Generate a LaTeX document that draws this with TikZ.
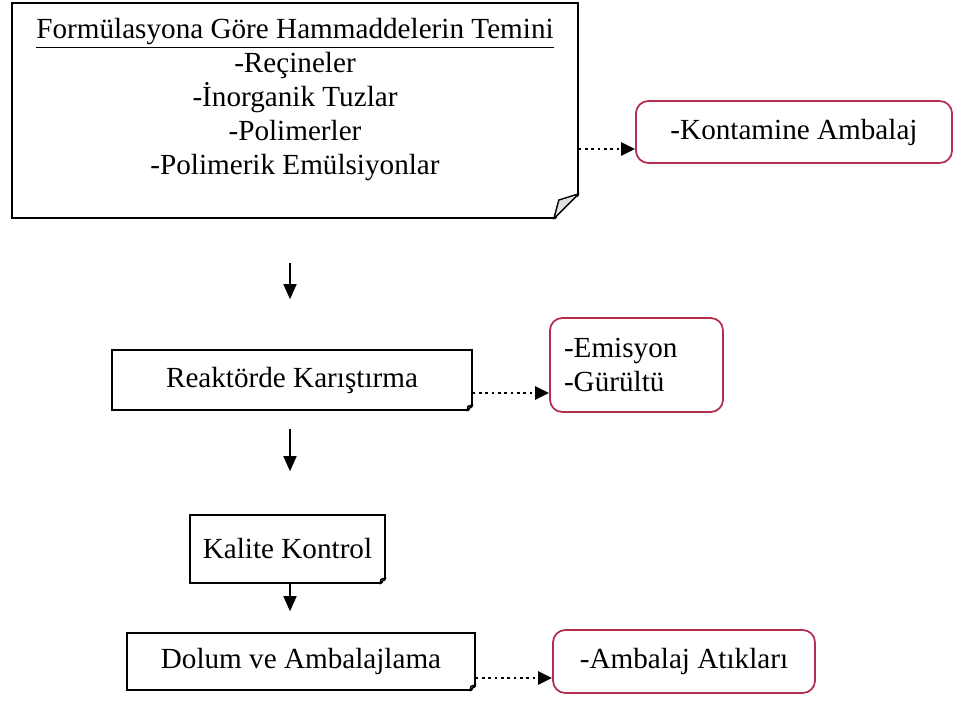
\documentclass[tikz,border=0pt]{standalone}
\usepackage{fontspec}
\setmainfont{Liberation Serif}
\usetikzlibrary{positioning,arrows.meta}
\definecolor{wastered}{RGB}{178,46,78}
\definecolor{flapgray}{RGB}{225,225,225}

% folded corner at the bottom right of a process box
\newcommand{\docfold}[2]{%
  \fill[white] ([shift={(0.04,-0.04)}]#1.south east) -- ([shift={(0.04,#2)}]#1.south east)
    -- ([shift={(-#2,-0.04)}]#1.south east) -- cycle;
  \filldraw[fill=flapgray, line width=0.8pt, line join=round]
    ([shift={(0,#2)}]#1.south east) -- ([shift={(-0.8*#2,0.75*#2)}]#1.south east)
    -- ([shift={(-#2,0)}]#1.south east) -- cycle;
}

\begin{document}
\begin{tikzpicture}[
    every node/.style={
        font=\fontsize{16.6}{19.4}\selectfont
    },
    stepbox/.style={
        draw,
        line width=0.9pt,
        fill=white,
        inner sep=0pt,
        align=center
    },
    wastebox/.style={
        draw=wastered,
        line width=1pt,
        rounded corners=7pt,
        fill=white,
        inner sep=0pt
    },
    arr/.style={
        -{Triangle[length=3mm,width=2.6mm]},
        line width=0.9pt
    },
    dotarr/.style={
        -{Triangle[length=2.8mm,width=2.6mm]},
        line width=1.6pt,
        dash pattern=on 1.5pt off 2.1pt
    }
]

\useasboundingbox (0,0) rectangle (19.12,-14.06);

% ============================================================
% RAW MATERIALS
% ============================================================

\node[stepbox, minimum width=11.32cm, minimum height=4.3cm] (supply) at (5.9,-2.21) {};
\docfold{supply}{0.5}

\node[align=center, inner sep=0pt] (supplytext) at (5.9,-1.99)
{\underline{Formülasyona Göre Hammaddelerin Temini}\\
 -Reçineler\\
 -İnorganik Tuzlar\\
 -Polimerler\\
 -Polimerik Emülsiyonlar};

\node[wastebox, minimum width=6.32cm, minimum height=1.24cm] (contam) at (15.88,-2.64)
{-Kontamine Ambalaj};

\coordinate (lvlA) at (0,-2.98);
\draw[dotarr] (supply.east |- lvlA) -- (contam.west |- lvlA);

% ============================================================
% MIXING
% ============================================================

\coordinate (spine) at (5.8,0);

\node[stepbox, minimum width=7.2cm, minimum height=1.2cm] (reactor) at (5.84,-7.6)
{Reaktörde Karıştırma};
\docfold{reactor}{0.12}

\node[wastebox, minimum width=3.46cm, minimum height=1.88cm, align=left, text width=2.9cm] (emis) at (12.73,-7.3)
{-Emisyon\\-Gürültü};

\draw[arr, shorten <=0.88cm, shorten >=1cm] (spine |- supply.south) -- (spine |- reactor.north);

\coordinate (lvlB) at (0,-7.86);
\draw[dotarr] (reactor.east |- lvlB) -- (emis.west |- lvlB);

% ============================================================
% QUALITY CONTROL AND FILLING
% ============================================================

\node[stepbox, minimum width=3.9cm, minimum height=1.36cm] (quality) at (5.75,-10.98)
{Kalite Kontrol};
\docfold{quality}{0.12}

\node[stepbox, minimum width=6.96cm, minimum height=1.14cm] (filling) at (6.02,-13.23)
{Dolum ve Ambalajlama};
\docfold{filling}{0.12}

\node[wastebox, minimum width=5.24cm, minimum height=1.26cm] (packwaste) at (13.68,-13.23)
{-Ambalaj Atıkları};

\draw[arr, shorten <=0.36cm, shorten >=0.86cm] (spine |- reactor.south) -- (spine |- quality.north);
\draw[arr, shorten >=0.42cm] (spine |- quality.south) -- (spine |- filling.north);

\coordinate (lvlC) at (0,-13.56);
\draw[dotarr] (filling.east |- lvlC) -- (packwaste.west |- lvlC);

\end{tikzpicture}
\end{document}
